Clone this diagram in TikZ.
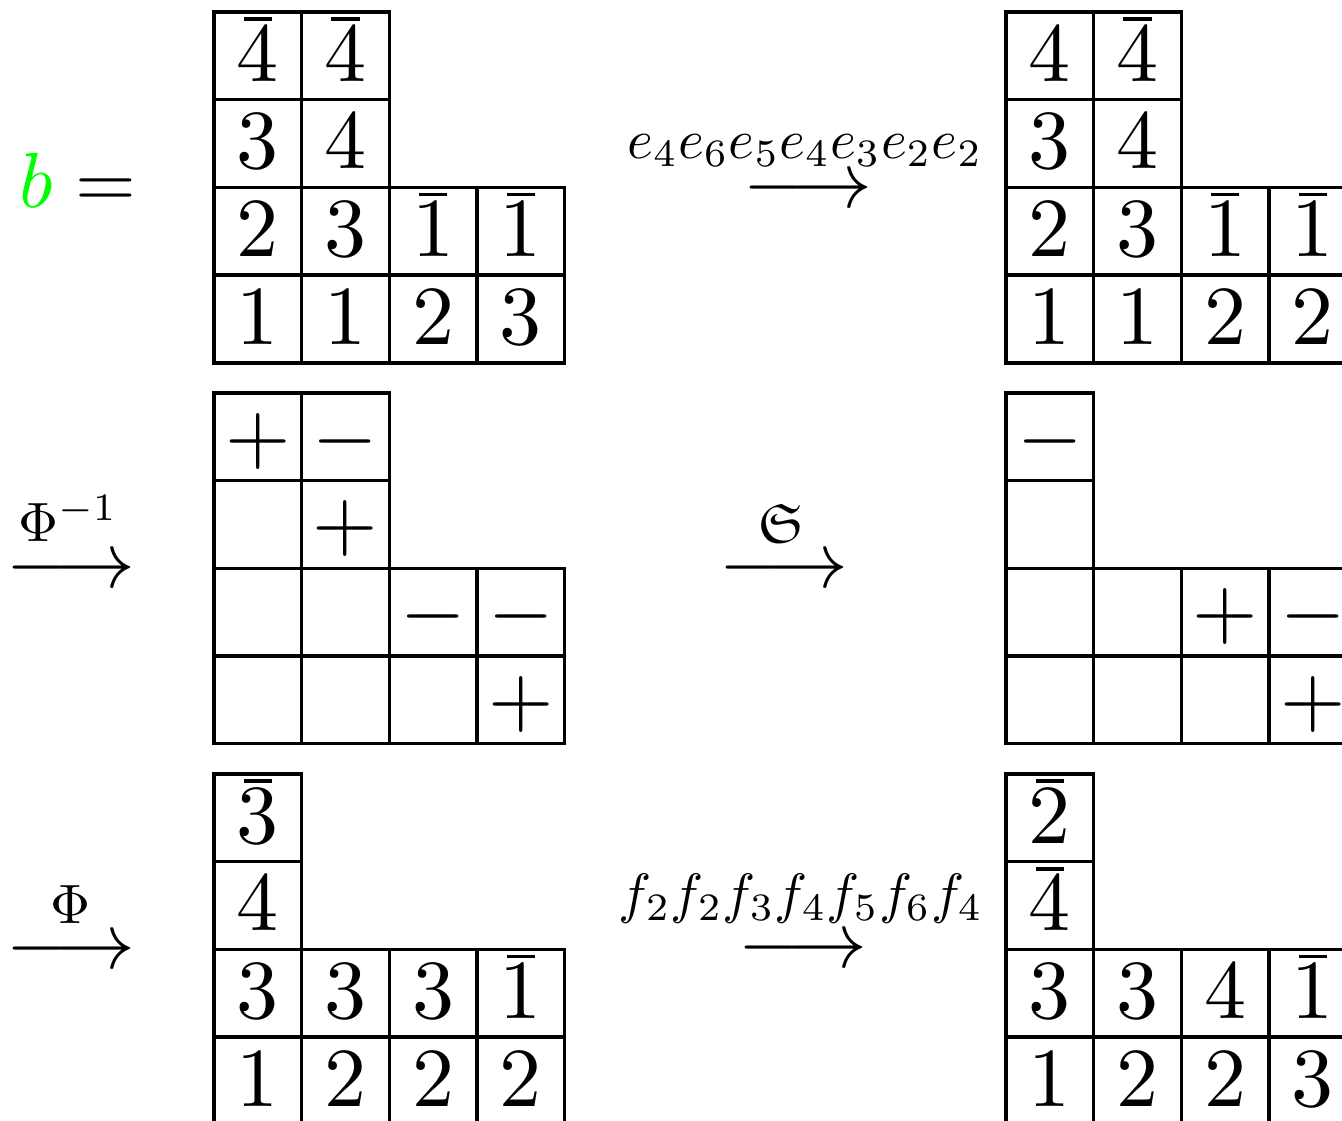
\documentclass[tikz,border=0pt]{standalone}
\usepackage{amssymb}
\usepackage{graphicx}
\newcommand\cs{87.7}
\newcommand\ob[1]{\mbox{\ooalign{$#1$\cr\hidewidth\rule[7.15pt]{3.35pt}{0.42pt}\hidewidth\cr}}}
\newcommand\tabrow[5]{% prefix, row, x0, y0, entries
  \foreach \e [count=\c] in {#5} {
    \node[cell] (#1-#2-\c) at ({#3+(\c-0.5)*\cs},{#4+(#2-0.5)*\cs}) {$\e$};
  }}
\newcommand\lab[1]{\scalebox{0.66}{$#1$}}
\newcommand\arr{\scalebox{0.95}{$\longrightarrow$}}
\begin{document}
\begin{tikzpicture}[x=0.11905pt,y=-0.11905pt,
  cell/.style={draw,line width=0.4pt,inner sep=0pt,outer sep=0pt,
    minimum width=10.44pt,minimum height=10.44pt,
    text height=8pt,text depth=2pt},
  lbl/.style={inner sep=0pt,outer sep=0pt,anchor=base}]
\useasboundingbox (0,0) rectangle (1342,1120);
\clip (0,0) rectangle (1342,1120);
% b =
\node[lbl,anchor=base west] (beq) at (20,207) {\scalebox{0.93}{$\color{green}b\color{black} =$}};
% top-left tableau
\tabrow{A}{1}{214}{12}{\ob4,\ob4}
\tabrow{A}{2}{214}{12}{3,4}
\tabrow{A}{3}{214}{12}{2,3,\ob1,\ob1}
\tabrow{A}{4}{214}{12}{1,1,2,3}
% top-right tableau
\tabrow{B}{1}{1006}{12}{4,\ob4}
\tabrow{B}{2}{1006}{12}{3,4}
\tabrow{B}{3}{1006}{12}{2,3,\ob1,\ob1}
\tabrow{B}{4}{1006}{12}{1,1,2,2}
% middle-left tableau
\tabrow{C}{1}{214}{393}{+,-}
\tabrow{C}{2}{214}{393}{{},+}
\tabrow{C}{3}{214}{393}{{},{},-,-}
\tabrow{C}{4}{214}{393}{{},{},{},+}
% middle-right tableau
\tabrow{D}{1}{1006}{393}{-}
\tabrow{D}{2}{1006}{393}{{}}
\tabrow{D}{3}{1006}{393}{{},{},+,-}
\tabrow{D}{4}{1006}{393}{{},{},{},+}
% bottom-left tableau
\tabrow{E}{1}{214}{774}{\ob3}
\tabrow{E}{2}{214}{774}{4}
\tabrow{E}{3}{214}{774}{3,3,3,\ob1}
\tabrow{E}{4}{214}{774}{1,2,2,2}
% bottom-right tableau
\tabrow{F}{1}{1006}{774}{\ob2}
\tabrow{F}{2}{1006}{774}{\ob4}
\tabrow{F}{3}{1006}{774}{3,3,4,\ob1}
\tabrow{F}{4}{1006}{774}{1,2,2,3}
% arrows
\node[lbl] (arrE) at (808,207) {\arr};
\node[lbl] (arrPhiInv) at (71,587) {\arr};
\node[lbl] (arrS) at (784,587) {\arr};
\node[lbl] (arrPhi) at (71,968) {\arr};
\node[lbl] (arrF) at (803,967) {\arr};
% arrow labels
\node[lbl] (labE) at (805,158) {\lab{e_4e_6e_5e_4e_3e_2e_2}};
\node[lbl] (labPhiInv) at (68,541) {\lab{\Phi^{-1}}};
\node[lbl] (labS) at (781,542) {\lab{\mathfrak{S}}};
\node[lbl] (labPhi) at (71,923) {\lab{\Phi}};
\node[lbl] (labF) at (801,912) {\lab{f_2f_2f_3f_4f_5f_6f_4}};
\end{tikzpicture}
\end{document}
